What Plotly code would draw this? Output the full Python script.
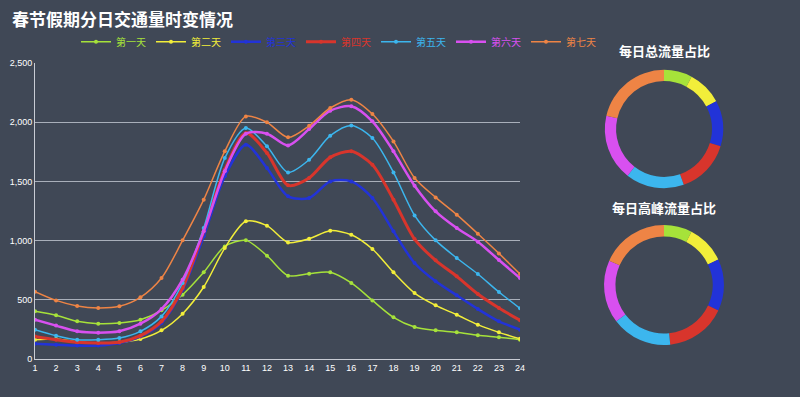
import plotly.graph_objects as go

hours = list(range(1, 25))
day_names = ["第一天", "第二天", "第三天", "第四天", "第五天", "第六天", "第七天"]
colors = ["#a6e23a", "#f2ee3a", "#2233d8", "#d8352c", "#3cb6ee", "#d850f0", "#ee8445"]
widths = [1.5, 1.5, 2.5, 3, 1.5, 2.5, 1.5]

day1 = [403, 369, 318, 298, 304, 332, 411, 543, 732, 951, 1002, 873, 704, 721, 732, 642, 495, 352, 270, 242, 225, 200, 183, 163]
day2 = [163, 169, 144, 135, 141, 169, 242, 383, 608, 937, 1163, 1126, 985, 1016, 1084, 1050, 929, 732, 557, 453, 374, 290, 225, 170]
day3 = [129, 121, 113, 113, 135, 191, 304, 586, 1036, 1543, 1810, 1613, 1374, 1360, 1500, 1500, 1360, 1078, 811, 656, 538, 422, 318, 248]
day4 = [191, 163, 141, 135, 141, 197, 318, 600, 1078, 1599, 1909, 1740, 1467, 1529, 1703, 1754, 1641, 1346, 1013, 833, 698, 549, 431, 327]
day5 = [248, 197, 163, 163, 177, 234, 360, 642, 1106, 1697, 1951, 1796, 1576, 1683, 1886, 1973, 1866, 1576, 1213, 1002, 853, 718, 566, 428]
day6 = [332, 282, 234, 222, 234, 298, 422, 670, 1078, 1585, 1903, 1903, 1804, 1942, 2097, 2134, 2007, 1754, 1464, 1247, 1106, 991, 836, 684]
day7 = [569, 495, 448, 431, 445, 521, 684, 1002, 1346, 1754, 2049, 1999, 1872, 1970, 2120, 2190, 2069, 1838, 1529, 1365, 1219, 1058, 892, 718]
series = [day1, day2, day3, day4, day5, day6, day7]

total_share = [27.8, 34.2, 45.0, 53.5, 57.5, 65.0, 77.0]
peak_share = [27.3, 37.6, 50.1, 59.0, 58.8, 61.2, 66.0]

bg = "#404856"
font_family = "Liberation Sans, Noto Sans CJK SC, sans-serif"

fig = go.Figure()
for name, vals, c, w in zip(day_names, series, colors, widths):
    fig.add_trace(go.Scatter(
        x=hours, y=vals, mode="lines+markers",
        name=f"<span style='color:{c}'>{name}</span>",
        line=dict(color=c, width=w, shape="spline", smoothing=0.8),
        marker=dict(color=c, size=4),
    ))

for dom_y, share in [([0.526, 0.824], total_share), ([0.131, 0.433], peak_share)]:
    fig.add_trace(go.Pie(
        labels=day_names, values=share, hole=0.81, sort=False,
        direction="clockwise", rotation=0,
        marker=dict(colors=colors, line=dict(width=0)),
        textinfo="none", showlegend=False, automargin=False,
        domain=dict(x=[0.755, 0.905], y=dom_y),
    ))

fig.update_layout(
    width=800, height=397,
    paper_bgcolor=bg, plot_bgcolor=bg,
    margin=dict(l=0, r=0, t=0, b=0, autoexpand=False),
    font=dict(family=font_family, color="white", size=10),
    xaxis=dict(domain=[0.04375, 0.65], range=[1, 24], tickmode="array",
               tickvals=hours, showgrid=False, zeroline=False, automargin=False,
               showline=True, linecolor="#c8ccd4", linewidth=1,
               tickfont=dict(size=9, color="white"), ticks=""),
    yaxis=dict(domain=[0.0957, 0.8413], range=[0, 2500], dtick=500,
               tickformat=",", showgrid=True, gridcolor="#a9afba", gridwidth=1,
               zeroline=False, showline=True, linecolor="#c8ccd4", linewidth=1,
               automargin=False,
               tickfont=dict(size=9, color="white"), ticks=""),
    legend=dict(orientation="h", x=0.095, y=0.895, xanchor="left", yanchor="middle",
                font=dict(size=10), bgcolor="rgba(0,0,0,0)", itemwidth=30,
                tracegroupgap=0),
    annotations=[
        dict(text="<b>春节假期分日交通量时变情况</b>", x=0.012, y=0.95, xref="paper", yref="paper",
             xanchor="left", yanchor="middle", showarrow=False, font=dict(size=17, color="white")),
        dict(text="<b>每日总流量占比</b>", x=0.83, y=0.87, xref="paper", yref="paper",
             xanchor="center", yanchor="middle", showarrow=False, font=dict(size=13, color="white")),
        dict(text="<b>每日高峰流量占比</b>", x=0.83, y=0.475, xref="paper", yref="paper",
             xanchor="center", yanchor="middle", showarrow=False, font=dict(size=13, color="white")),
    ],
)

fig.write_html("out.html", config={"displayModeBar": False},
               post_script="document.body.style.margin='0';document.body.style.overflow='hidden';")
